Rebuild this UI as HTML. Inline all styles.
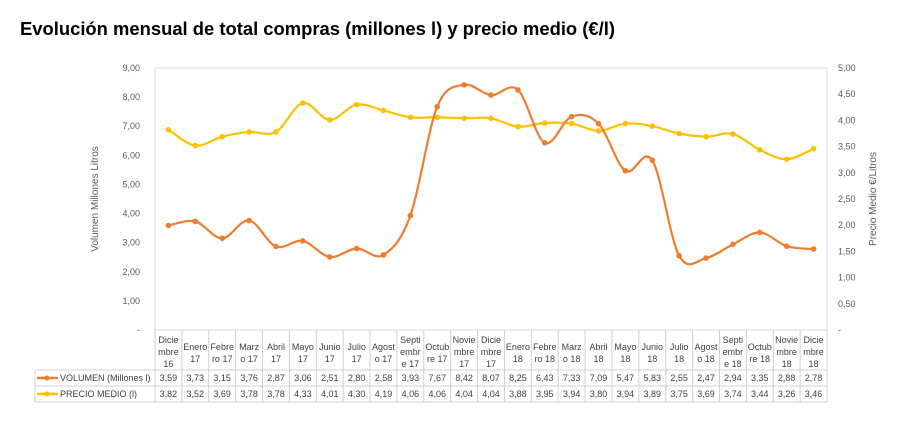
<!DOCTYPE html>
<html><head><meta charset="utf-8"><style>
body{margin:0;background:#fff;width:909px;height:424px;overflow:hidden;font-family:"Liberation Sans",sans-serif}
</style></head><body>
<svg id="s" width="909" height="424" xmlns="http://www.w3.org/2000/svg" font-family="Liberation Sans, sans-serif">
<text x="20" y="35" font-size="18" font-weight="bold" fill="#000" textLength="595" lengthAdjust="spacingAndGlyphs">Evolución mensual de total compras (millones l) y precio medio (€/l)</text>
</svg>
<script>
const s=document.getElementById('s');const NS='http://www.w3.org/2000/svg';
function el(t,a,txt){const e=document.createElementNS(NS,t);for(const k in a)e.setAttribute(k,a[k]);if(txt!=null)e.textContent=txt;s.appendChild(e);return e;}
const L=155,R=827,T=68,B=330;
const labs=[["Dicie","mbre","16"],["Enero","17"],["Febre","ro 17"],["Marz","o 17"],["Abril","17"],["Mayo","17"],["Junio","17"],["Julio","17"],["Agost","o 17"],["Septi","embr","e 17"],["Octub","re 17"],["Novie","mbre","17"],["Dicie","mbre","17"],["Enero","18"],["Febre","ro 18"],["Marz","o 18"],["Abril","18"],["Mayo","18"],["Junio","18"],["Julio","18"],["Agost","o 18"],["Septi","embr","e 18"],["Octub","re 18"],["Novie","mbre","18"],["Dicie","mbre","18"]];
const v=[3.59,3.73,3.15,3.76,2.87,3.06,2.51,2.80,2.58,3.93,7.67,8.42,8.07,8.25,6.43,7.33,7.09,5.47,5.83,2.55,2.47,2.94,3.35,2.88,2.78];
const p=[3.82,3.52,3.69,3.78,3.78,4.33,4.01,4.30,4.19,4.06,4.06,4.04,4.04,3.88,3.95,3.94,3.80,3.94,3.89,3.75,3.69,3.74,3.44,3.26,3.46];
const N=25,CW=(R-L)/N;
el('rect',{x:L,y:T,width:R-L,height:B-T,fill:'none',stroke:'#d9d9d9'});
for(let i=0;i<=9;i++){const y=B-i*(B-T)/9;el('text',{x:140,y:y+3,'font-size':9,fill:'#595959','text-anchor':'end'},i?i.toFixed(2).replace('.',','):'-');}
for(let i=0;i<=10;i++){const y=B-i*(B-T)/10;el('text',{x:838,y:y+3,'font-size':9,fill:'#595959'},i?(i/2).toFixed(2).replace('.',','):'-');}
el('text',{transform:'translate(98,199) rotate(-90)','font-size':10,fill:'#595959','text-anchor':'middle'},'Volumen Millones Litros');
el('text',{transform:'translate(876,199) rotate(-90)','font-size':10,fill:'#595959','text-anchor':'middle'},'Precio Medio €/Litros');
const g='#d0d0d0';
el('line',{x1:L,y1:B,x2:L,y2:402,stroke:g});
for(let i=1;i<=N;i++){const x=L+i*CW;el('line',{x1:x,y1:B,x2:x,y2:402,stroke:g});}
el('line',{x1:35,y1:370,x2:R,y2:370,stroke:g});el('line',{x1:35,y1:386,x2:R,y2:386,stroke:g});el('line',{x1:35,y1:402,x2:R,y2:402,stroke:g});
el('line',{x1:35,y1:370,x2:35,y2:402,stroke:g});
for(let i=0;i<N;i++){const cx=L+(i+0.5)*CW;const ls=labs[i];const y0=ls.length==3?343:350;
ls.forEach((t,j)=>el('text',{x:cx,y:y0+j*12,'font-size':9,fill:'#404040','text-anchor':'middle'},t));
el('text',{x:cx,y:381,'font-size':9,fill:'#404040','text-anchor':'middle'},v[i].toFixed(2).replace('.',','));
el('text',{x:cx,y:397,'font-size':9,fill:'#404040','text-anchor':'middle'},p[i].toFixed(2).replace('.',','));}
el('line',{x1:37,y1:378,x2:58,y2:378,stroke:'#ED7D31','stroke-width':2.5});el('circle',{cx:47,cy:378,r:2.5,fill:'#ED7D31'});
el('line',{x1:37,y1:394,x2:58,y2:394,stroke:'#FFC000','stroke-width':2.5});el('circle',{cx:47,cy:394,r:2.5,fill:'#FFC000'});
el('text',{x:60,y:381,'font-size':9,fill:'#404040'},'VOLUMEN (Millones l)');
el('text',{x:60,y:397,'font-size':9,fill:'#404040'},'PRECIO MEDIO (l)');
function path(pts){let d='M'+pts[0].join(',');for(let i=0;i<pts.length-1;i++){const p0=pts[i-1]||pts[i],p1=pts[i],p2=pts[i+1],p3=pts[i+2]||p2;const t=0.17;
d+=` C${p1[0]+(p2[0]-p0[0])*t},${p1[1]+(p2[1]-p0[1])*t} ${p2[0]-(p3[0]-p1[0])*t},${p2[1]-(p3[1]-p1[1])*t} ${p2[0]},${p2[1]}`;}return d;}
function series(d,max,c){const pts=d.map((y,i)=>[L+(i+0.5)*CW,B-y/max*(B-T)]);el('path',{d:path(pts),fill:'none',stroke:c,'stroke-width':2.2});pts.forEach(q=>el('circle',{cx:q[0],cy:q[1],r:2.8,fill:c}));}
series(p,5,'#FFC000');series(v,9,'#ED7D31');
</script>
</body></html>
